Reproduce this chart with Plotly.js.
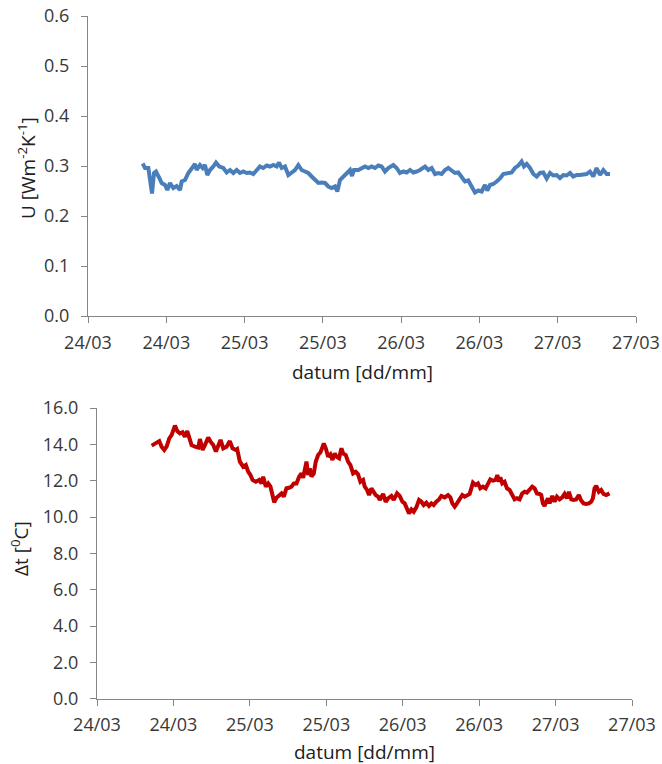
<!DOCTYPE html>
<html>
<head>
<meta charset="utf-8">
<script src="https://cdn.plot.ly/plotly-3.0.1.min.js"></script>
<style>html,body{margin:0;padding:0;background:#fff;}#chart{width:662px;height:764px;}</style>
</head>
<body>
<div id="chart"></div>
<script>
// x positions are hours after 24/03 00:00
const tickHours = [0, 12, 24, 36, 48, 60, 72, 84];
const tickLabels = ["24/03", "24/03", "25/03", "25/03", "26/03", "26/03", "27/03", "27/03"];

const uHours = [8.38,8.74,9.25,9.61,9.81,10.12,10.42,10.93,11.29,11.80,12.16,12.57,13.08,13.59,14.10,14.36,14.87,15.38,15.89,16.40,16.66,17.17,17.58,17.93,18.29,18.70,19.21,19.62,20.13,20.74,21.26,21.77,22.28,22.79,23.30,23.81,24.32,24.83,25.34,25.85,26.36,26.87,27.39,27.90,28.41,28.92,29.28,29.69,30.20,30.71,31.22,31.73,32.24,32.75,33.26,33.77,34.28,34.79,35.31,35.82,36.33,36.84,37.35,37.86,38.22,38.63,39.14,39.65,40.16,40.47,40.77,41.44,41.95,42.46,42.97,43.48,43.99,44.50,45.01,
45.52,46.03,46.80,47.31,47.82,48.33,48.85,49.36,49.87,50.38,50.89,51.66,52.17,52.68,53.19,53.70,54.21,54.72,55.23,55.74,56.25,56.76,57.27,57.78,58.29,58.81,59.32,59.83,60.34,60.85,61.21,61.62,62.13,62.64,63.15,63.66,64.43,64.94,65.45,65.96,66.47,66.83,67.24,67.75,68.26,68.77,69.28,69.79,70.31,70.82,71.33,71.84,72.35,72.86,73.37,73.88,74.39,74.90,75.41,75.92,76.43,76.94,77.45,77.96,78.48,78.99,79.50,80.01];
const uValues = [0.305,0.296,0.296,0.266,0.245,0.286,0.289,0.276,0.266,0.262,0.252,0.266,0.256,0.260,0.252,0.269,0.272,0.286,0.296,0.304,0.292,0.302,0.296,0.302,0.282,0.292,0.299,0.307,0.299,0.296,0.287,0.292,0.286,0.292,0.286,0.289,0.286,0.287,0.284,0.292,0.299,0.296,0.301,0.299,0.302,0.299,0.307,0.296,0.299,0.282,0.286,0.292,0.302,0.292,0.289,0.286,0.279,0.272,0.266,0.267,0.266,0.259,0.256,0.259,0.249,0.272,0.279,0.286,0.292,0.280,0.292,0.292,0.296,0.299,0.296,0.299,0.296,0.301,0.299,
0.289,0.296,0.302,0.296,0.286,0.289,0.287,0.292,0.287,0.289,0.292,0.299,0.292,0.296,0.284,0.286,0.284,0.292,0.296,0.291,0.286,0.287,0.279,0.269,0.271,0.259,0.247,0.251,0.249,0.262,0.251,0.262,0.264,0.269,0.275,0.284,0.285,0.287,0.296,0.301,0.309,0.299,0.304,0.296,0.284,0.279,0.286,0.287,0.275,0.286,0.281,0.282,0.276,0.282,0.281,0.286,0.279,0.282,0.282,0.282,0.284,0.289,0.279,0.296,0.282,0.292,0.284,0.284];

const dtHours = [8.58,8.94,9.36,9.78,10.14,10.56,10.93,11.35,11.71,11.97,12.24,12.60,13.02,13.44,13.80,14.17,14.48,14.85,15.37,15.90,16.16,16.58,16.94,17.46,17.83,18.25,18.67,19.03,19.40,19.82,20.34,20.86,21.28,21.80,22.01,22.43,22.95,23.37,23.74,24.10,24.42,24.94,25.46,25.83,26.09,26.51,26.88,27.24,27.56,27.82,28.18,28.60,28.97,29.33,29.75,30.17,30.54,30.90,31.32,31.74,32.10,32.37,32.63,32.89,33.15,33.41,33.67,34.04,34.35,34.72,35.09,35.40,35.61,35.92,36.29,36.65,36.97,37.33,37.59,38.01,38.38,38.64,39.06,39.42,39.79,40.21,40.63,40.99,41.36,41.78,42.04,42.40,42.72,43.08,43.35,43.76,44.13,
44.39,44.92,45.33,45.70,46.22,46.59,47.11,47.53,47.95,48.31,48.68,48.99,49.36,49.73,50.14,50.56,50.93,51.29,51.71,52.13,52.50,52.86,53.28,53.70,54.07,54.59,55.11,55.48,55.79,56.16,56.52,56.94,57.36,57.73,58.09,58.51,58.77,59.03,59.45,59.82,60.18,60.60,61.02,61.39,61.75,62.17,62.59,62.85,63.11,63.32,63.63,64.00,64.37,64.78,65.20,65.57,65.93,66.35,66.77,67.14,67.50,67.92,68.34,68.71,69.07,69.49,69.75,70.01,70.27,70.54,70.80,71.06,71.48,71.84,72.21,72.63,73.05,73.41,73.78,74.09,74.46,74.82,75.24,75.66,76.03,76.39,76.81,77.23,77.60,77.86,78.12,78.38,78.80,79.16,79.53,79.95,80.47];
const dtValues = [13.93,14.00,14.05,14.18,13.87,13.69,13.87,14.33,14.51,14.79,15.03,14.73,14.60,14.66,14.42,14.73,14.33,13.96,13.87,13.82,14.29,13.69,13.96,14.37,14.15,13.96,13.60,13.87,14.24,13.78,13.87,14.18,13.78,13.69,13.74,13.05,12.77,12.86,12.49,12.31,12.04,11.94,12.04,11.85,12.22,11.67,11.85,11.67,11.30,10.81,11.06,11.21,11.30,11.12,11.58,11.61,11.67,11.85,11.85,12.22,12.40,12.16,12.59,13.05,12.31,12.68,12.22,12.40,13.05,13.41,13.56,13.96,14.05,13.78,13.32,13.45,13.14,13.50,13.32,13.23,13.78,13.50,13.41,13.05,12.86,12.40,12.49,12.35,11.94,12.04,11.67,11.49,11.21,11.58,11.39,11.21,11.12,
10.94,11.27,10.84,11.03,11.16,10.94,11.30,11.16,10.84,10.75,10.48,10.20,10.42,10.29,10.53,10.94,10.84,10.66,10.79,10.61,10.75,10.66,10.84,10.97,11.16,11.08,11.21,11.08,10.75,10.57,10.75,11.03,11.21,11.12,11.21,11.27,11.58,11.89,11.76,11.85,11.58,11.67,11.58,11.85,12.07,12.00,12.04,12.31,11.94,12.18,11.85,11.94,11.58,11.49,11.16,10.97,11.03,10.97,11.30,11.39,11.34,11.49,11.67,11.58,11.30,11.27,11.21,10.75,10.61,10.84,11.03,10.75,11.16,10.84,11.12,10.97,11.08,11.27,11.03,11.39,10.97,10.94,10.97,11.21,10.90,10.75,10.72,10.75,10.84,11.03,11.58,11.71,11.39,11.49,11.27,11.21,11.30];

const W = 662, H = 764;
const FONT = "Open Sans, Noto Sans, sans-serif";
const TXT = "#383838";
const TITLE = "#202020";
const AX = "#868686";

function xAxis(domain, anchor) {
  return {
    domain: domain, anchor: anchor, range: [0, 84],
    tickmode: "array", tickvals: tickHours, ticktext: tickLabels,
    showline: true, linecolor: AX, linewidth: 1,
    ticks: "outside", ticklen: 6, tickcolor: AX, tickwidth: 1,
    ticklabelstandoff: 4,
    showgrid: false, zeroline: false,
    tickfont: {family: FONT, size: 18, color: TXT}
  };
}
function yAxis(domain, anchor, range, dtick) {
  return {
    domain: domain, anchor: anchor, range: range,
    tickmode: "linear", tick0: 0, dtick: dtick, tickformat: ".1f",
    showline: true, linecolor: AX, linewidth: 1,
    ticks: "outside", ticklen: 6, tickcolor: AX, tickwidth: 1,
    ticklabelstandoff: 8,
    showgrid: false, zeroline: false,
    tickfont: {family: FONT, size: 18, color: TXT}
  };
}

const traces = [
  {x: uHours, y: uValues, xaxis: "x", yaxis: "y", type: "scatter", mode: "lines",
   line: {color: "#4a7ebb", width: 4}, hoverinfo: "skip"},
  {x: dtHours, y: dtValues, xaxis: "x2", yaxis: "y2", type: "scatter", mode: "lines",
   line: {color: "#c00000", width: 4}, hoverinfo: "skip"}
];

const layout = {
  width: W, height: H,
  margin: {l: 0, r: 0, t: 0, b: 0},
  paper_bgcolor: "#ffffff", plot_bgcolor: "#ffffff",
  showlegend: false,
  font: {family: FONT, color: TXT},
  xaxis: xAxis([88 / W, 636 / W], "y"),
  yaxis: yAxis([1 - 316 / H, 1 - 16 / H], "x", [0, 0.6], 0.1),
  xaxis2: xAxis([97 / W, 632 / W], "y2"),
  yaxis2: yAxis([1 - 698.7 / H, 1 - 408 / H], "x2", [0, 16], 2),
  annotations: [
    {text: "U [Wm<sup>-2</sup>K<sup>-1</sup>]", xref: "paper", yref: "paper",
     x: 27 / W, y: 1 - 168 / H, xanchor: "center", yanchor: "middle", textangle: -90,
     showarrow: false, font: {family: FONT, size: 19, color: TITLE}},
    {text: "datum [dd/mm]", xref: "paper", yref: "paper",
     x: 362 / W, y: 1 - 372 / H, xanchor: "center", yanchor: "middle",
     showarrow: false, font: {family: FONT, size: 19, color: TITLE}},
    {text: "\u0394t [<sup>0</sup>C]", xref: "paper", yref: "paper",
     x: 20 / W, y: 1 - 549 / H, xanchor: "center", yanchor: "middle", textangle: -90,
     showarrow: false, font: {family: FONT, size: 19, color: TITLE}},
    {text: "datum [dd/mm]", xref: "paper", yref: "paper",
     x: 364 / W, y: 1 - 752 / H, xanchor: "center", yanchor: "middle",
     showarrow: false, font: {family: FONT, size: 19, color: TITLE}}
  ]
};

Plotly.newPlot("chart", traces, layout, {staticPlot: true, displayModeBar: false});
</script>
</body>
</html>
